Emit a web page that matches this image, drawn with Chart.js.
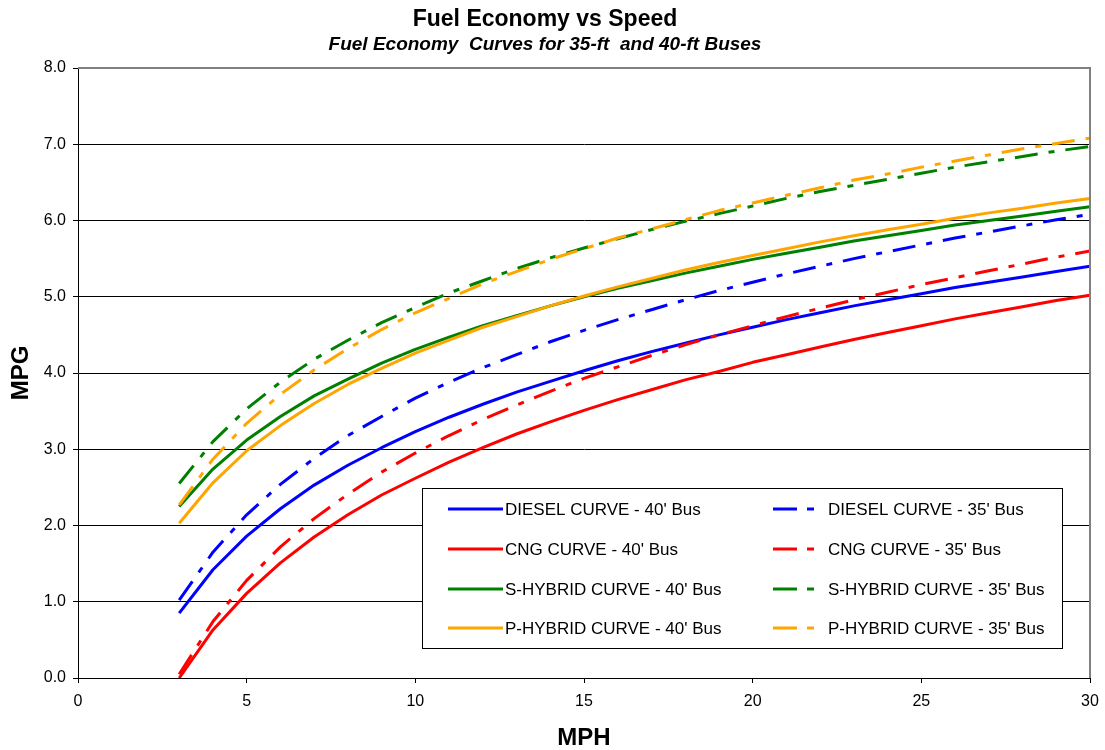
<!DOCTYPE html>
<html>
<head>
<meta charset="utf-8">
<title>Fuel Economy vs Speed</title>
<script src="https://cdn.jsdelivr.net/npm/chart.js@4.4.1/dist/chart.umd.min.js"></script>
<style>
  html, body { margin: 0; padding: 0; background: #ffffff; }
  canvas { display: block; }
</style>
</head>
<body>
<canvas id="chart" width="1105" height="750"></canvas>
<script>
// Speed (MPH) sample points shared by every curve
const speeds = [3, 4, 5, 6, 7, 8, 9, 10, 11, 12, 13, 14, 15, 16, 17, 18, 19, 20,
                21, 22, 23, 24, 25, 26, 27, 28, 29, 30];

// Fuel economy (MPG) for 40-ft buses
const diesel40 = [0.85, 1.42, 1.86, 2.22, 2.53, 2.79, 3.02, 3.23, 3.42, 3.59, 3.75, 3.89, 4.03, 4.16,
                  4.28, 4.39, 4.50, 4.60, 4.70, 4.79, 4.88, 4.96, 5.04, 5.12, 5.19, 5.26, 5.33, 5.40];
const cng40 = [0.00, 0.63, 1.11, 1.51, 1.85, 2.14, 2.40, 2.62, 2.83, 3.02, 3.20, 3.36, 3.51, 3.65,
               3.78, 3.91, 4.02, 4.14, 4.24, 4.34, 4.44, 4.53, 4.62, 4.71, 4.79, 4.87, 4.95, 5.02];
const sHybrid40 = [2.25, 2.74, 3.12, 3.43, 3.70, 3.92, 4.13, 4.31, 4.47, 4.62, 4.75, 4.88, 5.00, 5.11,
                   5.21, 5.31, 5.40, 5.49, 5.57, 5.65, 5.73, 5.80, 5.87, 5.94, 6.00, 6.06, 6.12, 6.18];
const pHybrid40 = [2.03, 2.56, 2.98, 3.31, 3.60, 3.85, 4.06, 4.26, 4.43, 4.60, 4.74, 4.88, 5.01, 5.13,
                   5.24, 5.35, 5.45, 5.54, 5.63, 5.72, 5.80, 5.88, 5.95, 6.03, 6.10, 6.16, 6.23, 6.29];

// Fuel economy (MPG) for 35-ft buses
const diesel35 = [1.02, 1.65, 2.14, 2.54, 2.88, 3.18, 3.43, 3.67, 3.88, 4.07, 4.24, 4.41, 4.56, 4.70,
                  4.83, 4.96, 5.08, 5.19, 5.30, 5.40, 5.50, 5.59, 5.68, 5.77, 5.85, 5.93, 6.01, 6.08];
const cng35 = [0.05, 0.74, 1.28, 1.72, 2.09, 2.41, 2.70, 2.95, 3.18, 3.39, 3.58, 3.76, 3.93, 4.08,
               4.23, 4.37, 4.50, 4.62, 4.74, 4.85, 4.96, 5.06, 5.16, 5.25, 5.34, 5.43, 5.52, 5.60];
const sHybrid35 = [2.55, 3.10, 3.53, 3.88, 4.18, 4.43, 4.66, 4.86, 5.05, 5.21, 5.37, 5.51, 5.64, 5.76,
                   5.88, 5.99, 6.09, 6.19, 6.29, 6.38, 6.46, 6.54, 6.62, 6.70, 6.77, 6.84, 6.91, 6.97];
const pHybrid35 = [2.27, 2.87, 3.34, 3.72, 4.04, 4.32, 4.57, 4.79, 4.98, 5.17, 5.33, 5.49, 5.63, 5.77,
                   5.89, 6.01, 6.13, 6.23, 6.33, 6.43, 6.53, 6.61, 6.70, 6.78, 6.86, 6.94, 7.01, 7.08];

// Axis ticks
const xTicks = [0, 5, 10, 15, 20, 25, 30];
const yTicks = [0, 1, 2, 3, 4, 5, 6, 7, 8];

const FONT = "'Liberation Sans', Arial, Helvetica, sans-serif";
const BLUE = '#0000FF', RED = '#FF0000', GREEN = '#008000', ORANGE = '#FFA500';
const DASH_DOT = [23, 11, 6, 11];

const seriesDefs = [
  { label: "DIESEL CURVE - 40' Bus",   values: diesel40,  color: BLUE,   dashed: false },
  { label: "CNG CURVE - 40' Bus",      values: cng40,     color: RED,    dashed: false },
  { label: "S-HYBRID CURVE - 40' Bus", values: sHybrid40, color: GREEN,  dashed: false },
  { label: "P-HYBRID CURVE - 40' Bus", values: pHybrid40, color: ORANGE, dashed: false },
  { label: "DIESEL CURVE - 35' Bus",   values: diesel35,  color: BLUE,   dashed: true },
  { label: "CNG CURVE - 35' Bus",      values: cng35,     color: RED,    dashed: true },
  { label: "S-HYBRID CURVE - 35' Bus", values: sHybrid35, color: GREEN,  dashed: true },
  { label: "P-HYBRID CURVE - 35' Bus", values: pHybrid35, color: ORANGE, dashed: true }
];

const datasets = seriesDefs.map((s, i) => ({
  label: s.label,
  data: speeds.map((x, k) => ({ x: x, y: s.values[k] })),
  borderColor: s.color,
  backgroundColor: s.color,
  borderWidth: 3,
  borderDash: s.dashed ? DASH_DOT : [],
  borderCapStyle: 'butt',
  borderJoinStyle: 'round',
  pointRadius: 0,
  pointHoverRadius: 0,
  tension: 0,
  fill: false,
  order: seriesDefs.length - i   // later series paint on top
}));

// White page background
const backgroundPlugin = {
  id: 'pageBackground',
  beforeDraw(chart) {
    const ctx = chart.ctx;
    ctx.save();
    ctx.fillStyle = '#ffffff';
    ctx.fillRect(0, 0, chart.width, chart.height);
    ctx.restore();
  }
};

// Grey frame along the top and right of the plot area
const framePlugin = {
  id: 'plotFrame',
  afterDraw(chart) {
    const a = chart.chartArea;
    const ctx = chart.ctx;
    ctx.save();
    ctx.strokeStyle = '#808080';
    ctx.lineWidth = 2;
    ctx.beginPath();
    ctx.moveTo(a.left, a.top);
    ctx.lineTo(a.right, a.top);
    ctx.lineTo(a.right, a.bottom);
    ctx.stroke();
    ctx.restore();
  }
};

// Two-column boxed legend inside the lower right of the plot
const boxedLegendPlugin = {
  id: 'boxedLegend',
  afterDraw(chart) {
    const ctx = chart.ctx;
    const box = { left: 422, top: 488, right: 1062, bottom: 648 };
    const rowY = [509, 549, 589, 628];
    ctx.save();
    ctx.fillStyle = '#ffffff';
    ctx.fillRect(box.left, box.top, box.right - box.left, box.bottom - box.top);
    ctx.strokeStyle = '#000000';
    ctx.lineWidth = 1;
    ctx.strokeRect(box.left + 0.5, box.top + 0.5, box.right - box.left, box.bottom - box.top);
    ctx.font = '17px ' + FONT;
    ctx.textBaseline = 'middle';
    ctx.textAlign = 'left';
    chart.data.datasets.forEach((ds, i) => {
      const col = i < 4 ? 0 : 1;
      const y = rowY[i % 4];
      ctx.strokeStyle = ds.borderColor;
      ctx.lineWidth = 3;
      ctx.lineCap = 'butt';
      ctx.beginPath();
      let textX;
      if (col === 0) {
        ctx.moveTo(448, y);
        ctx.lineTo(503, y);
        textX = 505;
      } else {
        ctx.moveTo(773, y);
        ctx.lineTo(797, y);
        ctx.moveTo(807, y);
        ctx.lineTo(814, y);
        textX = 828;
      }
      ctx.stroke();
      ctx.fillStyle = '#000000';
      ctx.fillText(ds.label, textX, y + 1);
    });
    ctx.restore();
  }
};

new Chart(document.getElementById('chart'), {
  type: 'line',
  data: { datasets: datasets },
  plugins: [backgroundPlugin, framePlugin, boxedLegendPlugin],
  options: {
    responsive: false,
    animation: false,
    devicePixelRatio: 1,
    layout: { padding: { left: 0, right: 15, top: 0, bottom: 0 } },
    plugins: {
      legend: { display: false },
      tooltip: { enabled: false },
      title: {
        display: true,
        text: 'Fuel Economy vs Speed',
        color: '#000000',
        font: { family: FONT, size: 23, weight: 'bold', lineHeight: 1 },
        padding: { top: 8, bottom: 1 }
      },
      subtitle: {
        display: true,
        text: 'Fuel Economy  Curves for 35-ft  and 40-ft Buses',
        color: '#000000',
        font: { family: FONT, size: 19, weight: 'bold', style: 'italic', lineHeight: 1 },
        padding: { top: 3, bottom: 14 }
      }
    },
    scales: {
      x: {
        type: 'linear',
        min: 0,
        max: 30,
        afterBuildTicks(scale) { scale.ticks = xTicks.map(v => ({ value: v })); },
        afterFit(scale) {
          scale.height = 72;
          scale.paddingLeft = 0;
          scale.paddingRight = 0;
        },
        ticks: {
          color: '#000000',
          font: { family: FONT, size: 16 },
          padding: 9,
          maxRotation: 0,
          callback: v => String(v)
        },
        grid: {
          display: true,
          drawOnChartArea: false,
          drawTicks: true,
          tickLength: 5,
          tickColor: '#000000',
          lineWidth: 1
        },
        border: { display: true, color: '#000000', width: 1 },
        title: {
          display: true,
          text: 'MPH',
          color: '#000000',
          font: { family: FONT, size: 24, weight: 'bold', lineHeight: 1 },
          padding: { top: 0, bottom: 0 }
        }
      },
      y: {
        type: 'linear',
        min: 0,
        max: 8,
        afterBuildTicks(scale) { scale.ticks = yTicks.map(v => ({ value: v })); },
        afterFit(scale) { scale.width = 78; },
        ticks: {
          color: '#000000',
          font: { family: FONT, size: 16 },
          padding: 7,
          callback: v => Number(v).toFixed(1)
        },
        grid: {
          display: true,
          drawOnChartArea: true,
          drawTicks: true,
          tickLength: 5,
          tickColor: '#000000',
          lineWidth: 1,
          color: ctx => (ctx.tick && ctx.tick.value === 8) ? '#808080' : '#000000'
        },
        border: { display: true, color: '#000000', width: 1 },
        title: {
          display: true,
          text: 'MPG',
          color: '#000000',
          font: { family: FONT, size: 24, weight: 'bold', lineHeight: 1 },
          padding: { top: 9, bottom: 0 }
        }
      }
    }
  }
});
</script>
</body>
</html>
